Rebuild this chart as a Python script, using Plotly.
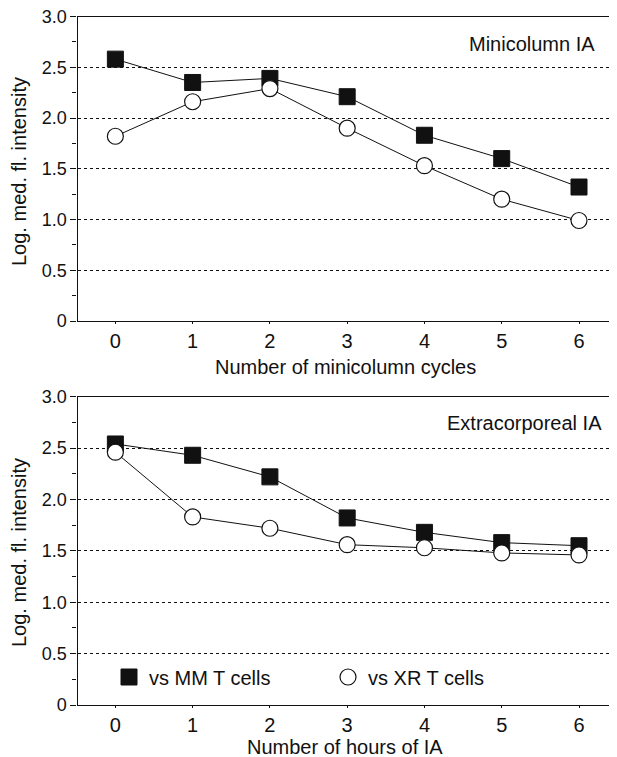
import plotly.graph_objects as go

# ---- data ----
cycles = [0, 1, 2, 3, 4, 5, 6]
mini_mm = [2.58, 2.35, 2.39, 2.21, 1.83, 1.60, 1.32]
mini_xr = [1.82, 2.16, 2.29, 1.90, 1.53, 1.20, 0.99]

hours = [0, 1, 2, 3, 4, 5, 6]
extra_mm = [2.54, 2.43, 2.22, 1.82, 1.68, 1.58, 1.55]
extra_xr = [2.46, 1.83, 1.72, 1.56, 1.53, 1.48, 1.46]

ytick_vals = [0, 0.5, 1.0, 1.5, 2.0, 2.5, 3.0]
ytick_text = ["0", "0.5", "1.0", "1.5", "2.0", "2.5", "3.0"]
xtick_vals = [0, 1, 2, 3, 4, 5, 6]

series_names = ["vs MM T cells", "vs XR T cells"]

# page body has an 8px margin, so the figure is drawn 8px in from the window edge
OFF = 8
W, H = 617 - OFF, 757 - OFF
FONT = "Liberation Sans, Arial, Helvetica, sans-serif"
FS = 20
FS_Y = 18
BLACK = "#111111"


def py(pix):
    return 1 - (pix - OFF) / H


def px(pix):
    return (pix - OFF) / W


sq = dict(symbol="square", size=16, color=BLACK, line=dict(color=BLACK, width=1))
ci = dict(symbol="circle", size=16, color="white", line=dict(color=BLACK, width=1.2))
ln = dict(color=BLACK, width=1)

fig = go.Figure()
fig.add_trace(go.Scatter(x=cycles, y=mini_mm, mode="lines+markers", marker=sq, line=ln,
                         xaxis="x", yaxis="y", showlegend=False, name=series_names[0]))
fig.add_trace(go.Scatter(x=cycles, y=mini_xr, mode="lines+markers", marker=ci, line=ln,
                         xaxis="x", yaxis="y", showlegend=False, name=series_names[1]))
fig.add_trace(go.Scatter(x=hours, y=extra_mm, mode="lines+markers", marker=sq, line=ln,
                         xaxis="x2", yaxis="y2", showlegend=False, name=series_names[0]))
fig.add_trace(go.Scatter(x=hours, y=extra_xr, mode="lines+markers", marker=ci, line=ln,
                         xaxis="x2", yaxis="y2", showlegend=False, name=series_names[1]))
# legend entries (marker only, as in the reference key)
fig.add_trace(go.Scatter(x=[None], y=[None], mode="markers", marker=sq,
                         xaxis="x2", yaxis="y2", showlegend=True, name=series_names[0]))
fig.add_trace(go.Scatter(x=[None], y=[None], mode="markers", marker=ci,
                         xaxis="x2", yaxis="y2", showlegend=True, name=series_names[1]))

xdom = [px(77.5), px(613)]
xcommon = dict(domain=xdom, range=[-0.49, 6.44], tickvals=xtick_vals,
               ticks="outside", ticklen=2, tickwidth=1, tickcolor=BLACK,
               showline=True, linecolor=BLACK, linewidth=1.2, mirror=True,
               showgrid=False, zeroline=False, automargin=False,
               ticklabeloverflow="allow",
               tickfont=dict(family=FONT, size=FS, color=BLACK))
ycommon = dict(range=[0, 3.0], tickvals=ytick_vals, ticktext=ytick_text,
               ticks="outside", ticklen=6, tickwidth=1, tickcolor=BLACK,
               showline=True, linecolor=BLACK, linewidth=1.2, mirror=True,
               showgrid=True, gridcolor=BLACK, gridwidth=1, griddash="3px,3px",
               zeroline=False, automargin=False, ticklabeloverflow="allow",
               minor=dict(dtick=0.25, tick0=0, ticks="outside", ticklen=4,
                          tickcolor=BLACK, showgrid=False),
               tickfont=dict(family=FONT, size=FS_Y, color=BLACK))

fig.update_layout(
    width=W, height=H,
    margin=dict(l=0, r=0, t=0, b=0, pad=0, autoexpand=False),
    paper_bgcolor="white", plot_bgcolor="white",
    font=dict(family=FONT, size=FS, color=BLACK),
    xaxis=dict(**xcommon, anchor="y"),
    yaxis=dict(**ycommon, domain=[py(321), py(16.5)], anchor="x"),
    xaxis2=dict(**xcommon, anchor="y2"),
    yaxis2=dict(**ycommon, domain=[py(705), py(396.7)], anchor="x2"),
    legend=dict(orientation="h", x=px(109), y=py(677), xanchor="left", yanchor="middle",
                entrywidth=174, entrywidthmode="pixels",
                font=dict(family=FONT, size=FS, color=BLACK),
                bgcolor="rgba(0,0,0,0)", itemclick=False),
    showlegend=True,
)

ann = [
    dict(text="Minicolumn IA", x=px(597), y=py(44), xanchor="right", yanchor="middle"),
    dict(text="Extracorporeal IA", x=px(604), y=py(423), xanchor="right", yanchor="middle"),
    dict(text="Number of minicolumn cycles", x=px(345), y=py(367), xanchor="center", yanchor="middle"),
    dict(text="Number of hours of IA", x=px(345), y=py(747), xanchor="center", yanchor="middle"),
    dict(text="Log. med. fl. intensity", x=px(19), y=py(172), xanchor="center", yanchor="middle", textangle=-90),
    dict(text="Log. med. fl. intensity", x=px(19), y=py(553), xanchor="center", yanchor="middle", textangle=-90),
]
for a in ann:
    fig.add_annotation(xref="paper", yref="paper", showarrow=False,
                       font=dict(family=FONT, size=FS, color=BLACK), **a)

fig.write_html("out.html")
